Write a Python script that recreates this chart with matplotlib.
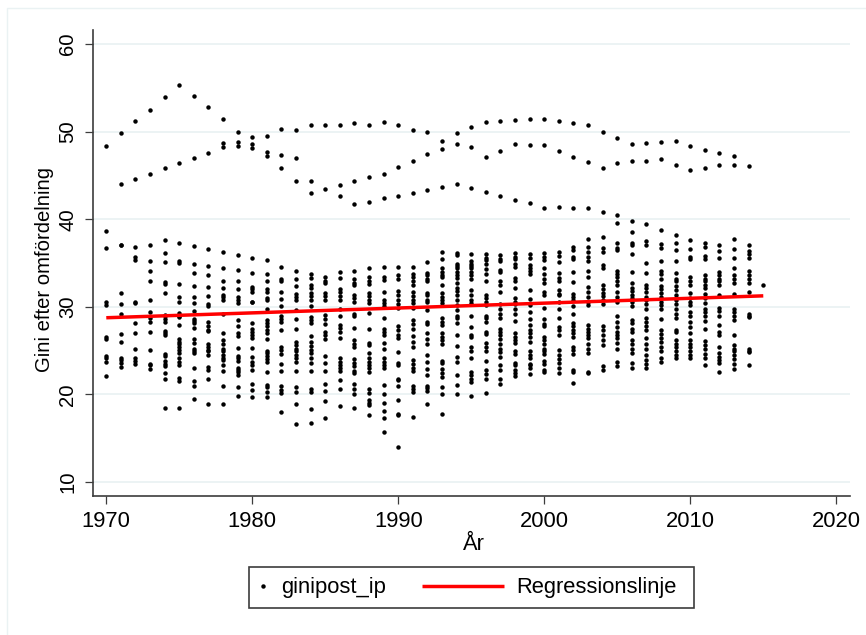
## Gini efter omfordelning per ar, med regressionslinje
import matplotlib
matplotlib.use('Agg')
import matplotlib.pyplot as plt
from matplotlib.legend_handler import HandlerLine2D
from matplotlib.lines import Line2D
from matplotlib.patches import Rectangle

plt.rcParams['font.family'] = ['Liberation Sans', 'DejaVu Sans']

gini_1970 = [48.4, 38.7, 36.7, 30.5, 30.2, 26.5, 26.3, 24.4, 24.1, 23.7, 22.1]
gini_1971 = [49.8, 44.0, 37.1, 37.0, 31.6, 30.3, 29.2, 26.9, 26.0, 24.2, 23.9, 23.6, 23.1]
gini_1972 = [51.2, 44.6, 36.8, 35.7, 35.3, 30.6, 30.4, 28.1, 27.0, 25.2, 24.1, 23.8, 23.5]
gini_1973 = [52.5, 45.2, 37.0, 35.2, 34.1, 32.9, 30.8, 29.4, 28.7, 28.3, 27.1, 25.1, 23.5, 23.3, 22.9]
gini_1974 = [53.9, 45.8, 37.6, 36.1, 35.1, 32.8, 32.6, 31.6, 29.1, 28.9, 28.6, 28.3, 27.2, 27.0, 26.8,
              24.6, 24.4, 23.8, 23.5, 23.2, 22.4, 21.8, 18.4]
gini_1975 = [55.3, 46.4, 37.3, 35.2, 35.0, 32.6, 31.1, 30.6, 29.3, 29.0, 28.8, 27.9, 26.3, 26.0, 25.7,
              25.4, 25.1, 24.7, 24.2, 23.7, 23.4, 21.9, 21.5, 18.4]
gini_1976 = [54.1, 47.0, 36.9, 34.9, 33.9, 32.4, 31.1, 30.4, 29.5, 28.6, 28.4, 28.1, 27.6, 26.3, 25.9,
              25.2, 25.0, 24.7, 23.0, 21.5, 21.0, 19.5]
gini_1977 = [52.8, 47.6, 36.6, 34.7, 33.6, 32.3, 31.2, 30.3, 30.1, 28.3, 27.8, 27.4, 27.2, 25.7, 25.4,
              25.1, 24.9, 24.5, 23.1, 22.8, 21.8, 18.9]
gini_1978 = [51.4, 48.7, 48.2, 36.2, 34.4, 33.0, 32.1, 31.3, 31.1, 30.8, 29.2, 27.0, 26.2, 25.7, 25.2,
              25.0, 24.5, 24.1, 23.9, 23.4, 22.7, 21.0, 18.9]
gini_1979 = [50.0, 48.8, 48.4, 35.9, 34.2, 33.0, 32.0, 31.1, 30.8, 30.4, 28.5, 27.8, 27.0, 26.7, 25.3,
              24.4, 24.1, 23.8, 23.0, 22.8, 22.5, 22.2, 20.8, 19.8]
gini_1980 = [49.4, 48.6, 48.1, 35.6, 33.9, 32.3, 32.0, 31.7, 30.6, 30.5, 28.1, 27.5, 27.1, 26.8, 26.4,
              25.3, 24.3, 23.7, 23.3, 22.8, 21.2, 20.5, 19.7]
gini_1981 = [49.5, 47.7, 47.2, 35.3, 33.7, 32.9, 32.0, 31.7, 31.0, 30.8, 29.7, 28.5, 28.2, 27.8, 27.3,
              27.0, 26.3, 24.9, 24.7, 24.4, 24.0, 23.7, 22.6, 21.1, 20.8, 20.3, 19.7]
gini_1982 = [50.3, 47.3, 45.8, 34.6, 33.2, 33.0, 31.7, 30.9, 30.1, 28.9, 28.6, 28.3, 27.3, 25.4, 25.1,
              24.6, 23.5, 22.7, 21.0, 20.5, 20.2, 18.0]
gini_1983 = [50.2, 47.0, 44.4, 34.1, 33.2, 32.4, 31.5, 31.1, 30.8, 29.6, 28.6, 27.5, 26.0, 25.6, 25.2,
              24.9, 24.5, 24.1, 23.7, 22.7, 20.8, 20.3, 18.9, 16.6]
gini_1984 = [50.8, 44.4, 43.0, 33.8, 33.3, 32.5, 32.1, 31.6, 31.2, 30.8, 30.1, 28.8, 28.5, 28.1, 26.7,
              26.0, 25.5, 25.1, 24.7, 24.1, 23.6, 22.7, 20.6, 20.3, 18.3, 16.7]
gini_1985 = [50.7, 43.5, 33.4, 33.0, 32.7, 31.6, 31.2, 30.8, 29.1, 28.6, 28.0, 27.1, 26.8, 26.3, 24.4,
              23.6, 22.7, 21.2, 20.4, 19.2, 17.3]
gini_1986 = [50.8, 43.9, 42.6, 34.0, 33.3, 32.0, 31.7, 31.2, 30.8, 29.7, 29.0, 27.9, 27.6, 27.1, 26.4,
              24.1, 23.7, 23.3, 23.0, 22.7, 21.7, 20.6, 18.7]
gini_1987 = [51.0, 44.4, 41.7, 34.1, 33.2, 32.7, 32.5, 31.3, 31.0, 30.5, 29.2, 29.0, 27.6, 26.2, 25.8,
              25.4, 24.0, 23.6, 23.2, 22.7, 22.4, 21.2, 20.6, 20.1, 18.5]
gini_1988 = [50.8, 44.8, 42.0, 34.4, 33.4, 33.0, 32.6, 31.6, 31.2, 30.8, 30.4, 29.3, 27.5, 25.9, 25.6,
              24.7, 24.1, 23.7, 23.3, 23.0, 22.6, 20.6, 20.2, 19.4, 19.0, 18.8, 17.6]
gini_1989 = [51.1, 45.2, 42.4, 34.5, 33.4, 33.1, 31.7, 30.8, 30.4, 30.1, 28.7, 27.5, 27.1, 26.8, 25.9,
              25.2, 24.1, 23.7, 23.3, 23.0, 21.1, 20.1, 19.0, 18.1, 17.3, 15.7]
gini_1990 = [50.8, 46.0, 42.7, 34.6, 33.6, 33.2, 31.8, 31.3, 30.8, 30.3, 29.9, 27.8, 27.3, 26.8, 26.4,
              24.8, 23.6, 23.3, 21.8, 21.6, 21.0, 19.4, 17.8, 17.6, 14.0]
gini_1991 = [50.2, 46.7, 43.0, 34.6, 33.8, 33.4, 32.9, 32.5, 31.7, 31.2, 30.8, 30.4, 29.9, 28.5, 28.0,
              27.5, 26.7, 26.0, 25.4, 23.9, 23.5, 23.0, 22.7, 21.0, 20.6, 20.3, 17.4]
gini_1992 = [50.0, 47.5, 43.3, 35.1, 33.9, 33.6, 33.2, 33.0, 31.6, 31.3, 30.8, 30.5, 29.6, 28.3, 28.0,
              27.0, 26.3, 25.7, 24.5, 23.7, 22.9, 22.2, 21.0, 20.7, 20.4, 18.9]
gini_1993 = [48.9, 48.0, 43.7, 36.2, 35.5, 34.4, 34.0, 33.6, 33.4, 32.5, 31.6, 31.1, 30.8, 30.4, 28.7,
              28.3, 27.9, 27.0, 26.6, 26.2, 25.7, 23.8, 23.6, 22.9, 22.4, 22.0, 20.8, 20.1, 17.8]
gini_1994 = [49.8, 48.6, 44.0, 36.1, 35.9, 34.9, 34.7, 34.4, 34.0, 33.6, 33.3, 32.7, 32.2, 31.8, 31.4,
              30.8, 30.2, 29.6, 29.0, 28.7, 28.1, 26.8, 25.5, 24.3, 23.7, 22.2, 21.1, 20.1]
gini_1995 = [50.5, 48.3, 43.6, 36.0, 35.2, 34.9, 34.7, 34.4, 34.0, 33.6, 33.2, 31.9, 31.3, 30.8, 30.4,
              28.9, 27.7, 26.8, 26.6, 25.4, 24.9, 24.1, 22.6, 22.2, 21.8, 21.4, 19.8]
gini_1996 = [51.1, 47.1, 43.1, 36.0, 35.6, 35.3, 34.9, 34.3, 33.8, 33.0, 31.3, 31.0, 30.6, 30.2, 29.0,
              28.7, 28.3, 27.1, 26.9, 25.9, 25.4, 24.9, 23.8, 22.8, 22.3, 21.8, 20.2]
gini_1997 = [51.2, 47.8, 42.7, 35.9, 35.5, 35.2, 34.2, 34.0, 33.0, 32.5, 31.7, 30.3, 29.8, 29.2, 28.7,
              27.5, 27.1, 26.8, 26.3, 25.7, 25.2, 24.8, 24.3, 23.3, 22.8, 21.8, 21.2]
gini_1998 = [51.3, 48.6, 42.2, 36.1, 35.7, 35.4, 34.9, 34.6, 33.3, 32.9, 32.2, 31.0, 30.6, 30.3, 29.8,
              29.2, 28.4, 27.0, 26.6, 26.2, 25.9, 24.9, 24.6, 23.6, 23.3, 22.8, 22.4, 22.1]
gini_1999 = [51.4, 48.5, 41.8, 36.0, 35.6, 34.8, 34.4, 34.1, 33.7, 31.9, 30.9, 30.2, 29.4, 28.6, 27.9,
              27.4, 27.0, 26.5, 26.0, 24.9, 24.5, 24.2, 23.5, 23.3, 23.0, 22.3]
gini_2000 = [51.4, 48.5, 41.3, 36.1, 35.7, 35.3, 34.4, 33.7, 33.2, 32.7, 31.7, 31.3, 29.9, 28.6, 28.0,
              27.8, 26.6, 26.2, 25.7, 25.2, 24.9, 24.6, 23.8, 23.5, 22.8, 22.5]
gini_2001 = [51.2, 47.8, 41.4, 36.2, 35.8, 35.1, 33.9, 33.3, 32.9, 31.9, 31.5, 31.3, 30.6, 29.8, 28.7,
              27.7, 27.3, 26.8, 25.1, 24.5, 24.0, 23.6, 23.0, 22.4]
gini_2002 = [51.0, 47.1, 41.3, 36.8, 36.5, 35.7, 35.4, 34.0, 32.8, 31.5, 31.1, 30.8, 30.1, 29.2, 28.2,
              27.8, 27.3, 27.0, 26.6, 25.4, 25.1, 24.6, 22.8, 22.5, 21.3]
gini_2003 = [50.8, 46.5, 41.3, 37.7, 36.8, 36.2, 35.7, 35.2, 34.1, 33.4, 32.3, 31.7, 31.1, 30.6, 30.2,
              27.9, 27.5, 27.1, 26.8, 26.4, 25.8, 25.2, 24.7, 22.6, 22.4]
gini_2004 = [50.0, 45.8, 40.8, 38.0, 36.7, 36.3, 34.8, 34.4, 32.5, 32.0, 31.6, 31.2, 30.8, 30.3, 27.8,
              27.3, 26.8, 26.2, 25.6, 23.2, 22.8]
gini_2005 = [49.3, 46.4, 40.5, 39.6, 37.3, 36.7, 36.5, 34.1, 33.8, 33.4, 33.0, 32.5, 31.7, 31.1, 30.8,
              30.6, 29.0, 28.3, 27.7, 27.1, 26.8, 26.4, 25.9, 25.2, 23.7, 23.2]
gini_2006 = [48.6, 46.6, 39.8, 38.5, 37.3, 37.0, 36.0, 34.0, 32.7, 32.2, 31.8, 31.3, 31.0, 30.6, 30.1,
              28.5, 28.1, 27.5, 27.1, 26.2, 25.7, 25.2, 24.7, 23.6, 23.0]
gini_2007 = [48.7, 46.7, 39.4, 37.5, 37.1, 35.0, 33.9, 32.5, 32.1, 31.7, 31.1, 30.8, 30.3, 29.8, 28.7,
              28.3, 27.8, 27.3, 26.4, 25.7, 25.2, 24.5, 23.9, 23.5, 23.0]
gini_2008 = [48.8, 46.9, 38.8, 37.2, 36.7, 35.2, 34.1, 33.8, 33.2, 32.4, 32.0, 31.6, 31.1, 30.6, 30.2,
              29.8, 28.6, 27.3, 26.9, 26.4, 26.0, 25.4, 24.9, 24.2, 23.7]
gini_2009 = [48.9, 46.2, 38.2, 37.3, 36.5, 35.2, 33.9, 33.2, 32.9, 32.4, 31.9, 31.3, 30.8, 30.3, 29.8,
              29.2, 28.7, 27.4, 27.1, 26.2, 25.8, 25.4, 25.0, 24.5, 24.1]
gini_2010 = [48.4, 45.6, 37.6, 36.6, 35.7, 35.4, 33.4, 33.0, 32.5, 31.6, 31.0, 30.6, 30.2, 29.4, 28.9,
              28.3, 27.7, 27.0, 26.2, 25.8, 25.4, 24.9, 24.5, 24.2]
gini_2011 = [47.9, 45.9, 37.3, 36.8, 35.8, 35.4, 33.6, 33.2, 32.9, 32.5, 32.1, 31.5, 31.0, 30.4, 29.8,
              29.4, 28.9, 28.4, 27.5, 26.1, 25.6, 25.2, 24.6, 24.1, 23.3]
gini_2012 = [47.6, 46.2, 37.1, 36.4, 35.6, 34.0, 33.6, 33.2, 32.9, 32.5, 31.3, 29.9, 29.5, 29.0, 27.9,
              27.1, 26.8, 25.4, 24.7, 24.3, 23.9, 23.6, 22.5]
gini_2013 = [47.2, 46.2, 37.7, 36.6, 35.6, 34.4, 33.6, 33.2, 32.7, 31.5, 29.8, 29.4, 29.0, 28.5, 26.8,
              25.6, 25.2, 24.9, 24.5, 24.0, 23.5, 22.9]
gini_2014 = [46.1, 37.0, 36.4, 36.0, 35.6, 34.1, 33.6, 33.2, 32.7, 31.7, 29.2, 29.0, 28.8, 25.2, 24.9,
              24.8, 23.4]
gini_2015 = [32.5]

gini_per_year = {
    1970: gini_1970, 1971: gini_1971, 1972: gini_1972, 1973: gini_1973, 1974: gini_1974,
    1975: gini_1975, 1976: gini_1976, 1977: gini_1977, 1978: gini_1978, 1979: gini_1979,
    1980: gini_1980, 1981: gini_1981, 1982: gini_1982, 1983: gini_1983, 1984: gini_1984,
    1985: gini_1985, 1986: gini_1986, 1987: gini_1987, 1988: gini_1988, 1989: gini_1989,
    1990: gini_1990, 1991: gini_1991, 1992: gini_1992, 1993: gini_1993, 1994: gini_1994,
    1995: gini_1995, 1996: gini_1996, 1997: gini_1997, 1998: gini_1998, 1999: gini_1999,
    2000: gini_2000, 2001: gini_2001, 2002: gini_2002, 2003: gini_2003, 2004: gini_2004,
    2005: gini_2005, 2006: gini_2006, 2007: gini_2007, 2008: gini_2008, 2009: gini_2009,
    2010: gini_2010, 2011: gini_2011, 2012: gini_2012, 2013: gini_2013, 2014: gini_2014,
    2015: gini_2015,
}

reg_years = [1970, 2015]
reg_values = [28.75, 31.25]

x_ticks = [1970, 1980, 1990, 2000, 2010, 2020]
y_ticks = [10, 20, 30, 40, 50, 60]

W, H = 866, 635
GRID = '#eaf2f3'
AXIS = '#3c3c3c'
FS = 15.8
FS_ROT = 14.6


class ShortHandle(HandlerLine2D):
    ## the dot in the legend sits close to its label, so it gets a narrower box
    def legend_artist(self, legend, orig_handle, fontsize, handlebox):
        handlebox.width = 10
        return super().legend_artist(legend, orig_handle, fontsize, handlebox)


xs = []
ys = []
for year, values in gini_per_year.items():
    xs += [year] * len(values)
    ys += values

fig = plt.figure(figsize=(W / 100, H / 100), dpi=100)
ax = fig.add_axes([93 / W, 1 - 496 / H, (850 - 93) / W, (496 - 30) / H])

dots, = ax.plot(xs, ys, 'o', color='black', ms=3.2, mew=0, label='ginipost_ip', zorder=3)
reg, = ax.plot(reg_years, reg_values, color='#ff0000', lw=2.5, label='Regressionslinje', zorder=4,
               solid_capstyle='butt')

ax.set_xlim(1969.09, 2020.94)
ax.set_ylim(8.4, 61.6)
ax.set_xticks(x_ticks)
ax.set_yticks(y_ticks)
ax.grid(axis='y', color=GRID, lw=1.3, zorder=0)
ax.set_axisbelow(True)
for side in ['top', 'right']:
    ax.spines[side].set_visible(False)
for side in ['left', 'bottom']:
    ax.spines[side].set_color(AXIS)
    ax.spines[side].set_linewidth(1.2)
ax.tick_params(axis='both', length=6, width=0.9, color=AXIS)
ax.tick_params(axis='x', pad=4.5, labelsize=FS)
ax.tick_params(axis='y', pad=5.5, labelsize=FS_ROT)
plt.setp(ax.get_yticklabels(), rotation=90, va='center')

ax.set_xlabel('År', fontsize=FS)
ax.set_ylabel('Gini efter omfördelning', fontsize=FS_ROT)
ax.xaxis.set_label_coords(0.503, -0.081)
ax.yaxis.set_label_coords((43 - 93 + 11.5) / (850 - 93), 0.487)

## frame drawn on its own, the reference has more room right of the text than left of the dot
fig.add_artist(Rectangle((248.6 / W, 1 - 607.5 / H), (694 - 248.6) / W, 40.5 / H,
                         transform=fig.transFigure, fc='white', ec=AXIS, lw=1.2, zorder=1))
fig.legend(handles=[dots, reg], loc='center left', bbox_to_anchor=(248.6 / W, 1 - 588 / H), ncol=2,
           fontsize=FS, frameon=False, handlelength=3.72, handletextpad=0.55, columnspacing=1.64,
           borderpad=0.32, borderaxespad=0, handler_map={dots: ShortHandle()})

## pale outer border, only top and left show in the export
fig.add_artist(Line2D([7.5 / W, 7.5 / W, 1], [0, 1 - 8 / H, 1 - 8 / H], color=GRID, lw=1.0))

plt.savefig('out.png', dpi=100)
